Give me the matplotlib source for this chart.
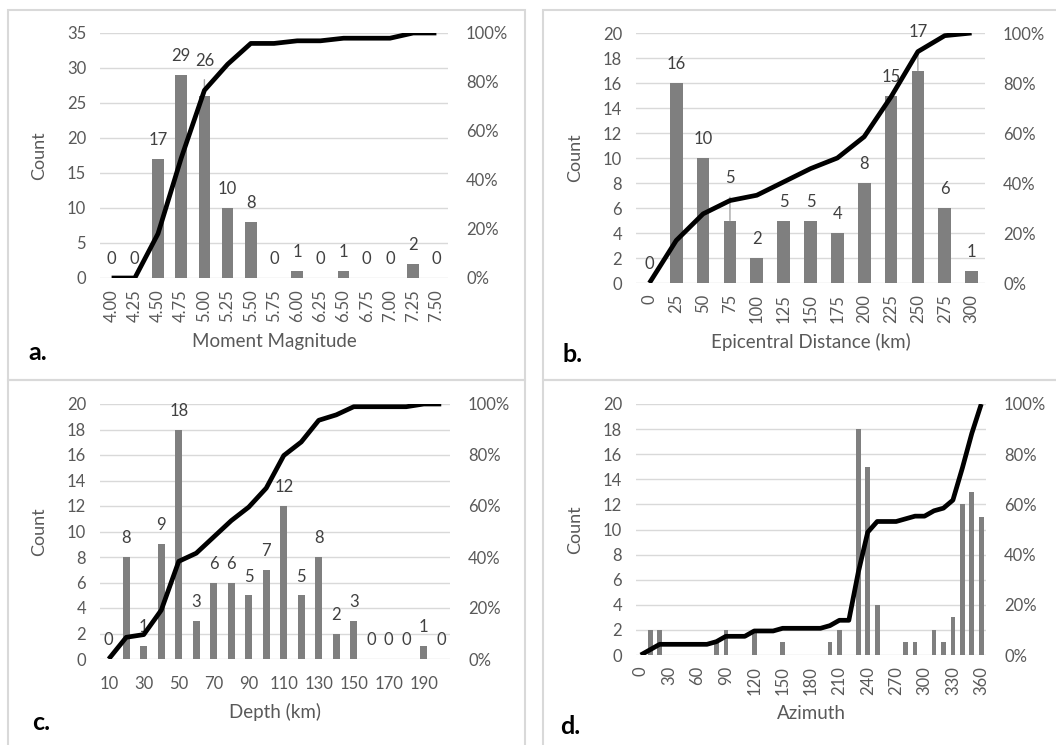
import matplotlib
matplotlib.use("Agg")
import matplotlib.pyplot as plt
import numpy as np
from matplotlib.patches import Rectangle
from matplotlib.ticker import PercentFormatter

plt.rcParams["font.family"] = ["Lato", "DejaVu Sans"]

# Дані (кількість подій по інтервалах)
mag_labels = ["4.00", "4.25", "4.50", "4.75", "5.00", "5.25", "5.50", "5.75",
              "6.00", "6.25", "6.50", "6.75", "7.00", "7.25", "7.50"]
mag_counts = [0, 0, 17, 29, 26, 10, 8, 0, 1, 0, 1, 0, 0, 2, 0]

dist_labels = ["0", "25", "50", "75", "100", "125", "150", "175", "200",
               "225", "250", "275", "300"]
dist_counts = [0, 16, 10, 5, 2, 5, 5, 4, 8, 15, 17, 6, 1]

depth_labels = ["10", "20", "30", "40", "50", "60", "70", "80", "90", "100",
                "110", "120", "130", "140", "150", "160", "170", "180", "190", "200"]
depth_counts = [0, 8, 1, 9, 18, 3, 6, 6, 5, 7, 12, 5, 8, 2, 3, 0, 0, 0, 1, 0]

azi_labels = ["0", "10", "20", "30", "40", "50", "60", "70", "80", "90",
              "100", "110", "120", "130", "140", "150", "160", "170", "180",
              "190", "200", "210", "220", "230", "240", "250", "260", "270",
              "280", "290", "300", "310", "320", "330", "340", "350", "360"]
azi_counts = [0, 2, 2, 0, 0, 0, 0, 0, 1, 2, 0, 0, 2, 0, 0, 1, 0, 0, 0,
              0, 1, 2, 0, 18, 15, 4, 0, 0, 1, 1, 0, 2, 1, 3, 12, 13, 11]

W, H = 1056, 745
BAR = "#7f7f7f"
GRID = "#d9d9d9"
TXT = "#595959"
LBL = "#404040"
FS = 12


def px_axes(fig, x0, y0, x1, y1):
    # прямокутник у пікселях (зверху вниз) -> координати фігури
    return fig.add_axes([x0 / W, 1 - y1 / H, (x1 - x0) / W, (y1 - y0) / H])


def panel(fig, box, labels, counts, ymax, ystep, bar_w, every, rot, xpad,
          xtitle, title_y, show_vals=True, lifts=None):
    lifts = lifts or {}
    ax = px_axes(fig, *box)
    n = len(counts)
    x = np.arange(n)
    ax.bar(x, counts, width=bar_w, color=BAR, zorder=2)
    ax.set_xlim(-0.5, n - 0.5)
    ax.set_ylim(0, ymax)
    ax.set_yticks(np.arange(0, ymax + 0.1, ystep))
    ax.yaxis.grid(True, color=GRID, lw=1.0, zorder=0)
    ax.set_axisbelow(True)
    for s in ax.spines.values():
        s.set_visible(False)
    ax.set_xticks(x[::every])
    ax.set_xticklabels(labels[::every], rotation=rot)
    ax.tick_params(axis="both", length=0, labelsize=FS, labelcolor=TXT)
    ax.tick_params(axis="x", pad=xpad)
    ax.tick_params(axis="y", pad=10)
    ax.set_ylabel("Count", fontsize=13, color=TXT)
    ax.yaxis.set_label_coords(-0.152, 0.5)
    ax.text(0.5, title_y, xtitle, transform=ax.transAxes, ha="center",
            va="center", fontsize=13.5, color=TXT)

    if show_vals:
        for i, v in enumerate(counts):
            lift = lifts.get(i, 0)
            ap = None
            if lift:
                ap = dict(arrowstyle="-", color="#a6a6a6", lw=1.0,
                          shrinkA=6, shrinkB=0)
            ax.annotate(str(v), xy=(i, v), xytext=(0, 13.5 + lift),
                        textcoords="offset points", ha="center", va="center",
                        fontsize=FS, color=LBL, arrowprops=ap, zorder=3)

    # кумулятивний відсоток
    cum = np.cumsum(counts) / np.sum(counts)
    ax2 = ax.twinx()
    ax2.plot(x, cum, color="black", lw=3.4, solid_joinstyle="round",
             solid_capstyle="butt")
    ax2.set_ylim(0, 1)
    ax2.set_yticks(np.arange(0, 1.01, 0.2))
    ax2.yaxis.set_major_formatter(PercentFormatter(1.0, decimals=0))
    ax2.tick_params(axis="y", length=0, labelsize=FS, labelcolor=TXT, pad=13)
    for s in ax2.spines.values():
        s.set_visible(False)
    return ax


fig = plt.figure(figsize=(W / 100, H / 100), dpi=100)

# рамки діаграм
for (x0, y0, x1, y1) in [(8, 10, 525, 380), (543, 10, 1060, 380),
                         (8, 380, 525, 750), (543, 380, 1060, 750)]:
    fig.patches.append(Rectangle((x0 / W, 1 - y1 / H), (x1 - x0) / W, (y1 - y0) / H,
                                 transform=fig.transFigure, fill=False,
                                 edgecolor="#d9d9d9", lw=1.5))

panel(fig, (100, 33, 448, 278), mag_labels, mag_counts, 35, 5, 0.5, 1, 90, 8,
      "Moment Magnitude", -0.261, lifts={4: 12})
panel(fig, (636, 33, 985, 283), dist_labels, dist_counts, 20, 2, 0.47, 1, 90, 8,
      "Epicentral Distance (km)", -0.236, lifts={3: 17, 10: 14})
panel(fig, (100, 404, 450, 659), depth_labels, depth_counts, 20, 2, 0.38, 2, 0, 12,
      "Depth (km)", -0.208)
panel(fig, (636, 404, 986, 655), azi_labels, azi_counts, 20, 2, 0.5, 3, 90, 8,
      "Azimuth", -0.235, show_vals=False)

for s, (lx, ly) in zip(["a.", "b.", "c.", "d."],
                       [(28, 360), (563, 362), (32, 730), (560, 734)]):
    fig.text(lx / W, 1 - ly / H, s, fontsize=18, fontweight="bold",
             color="black", ha="left", va="baseline")

fig.savefig("out.png", dpi=100)
